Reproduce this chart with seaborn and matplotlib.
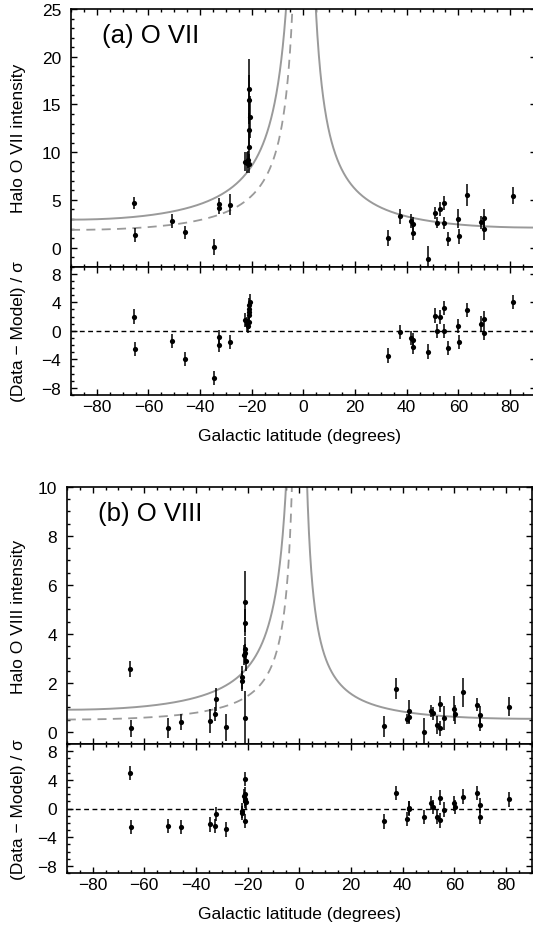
import numpy as np
import pandas as pd
import matplotlib
matplotlib.use("Agg")
import matplotlib.pyplot as plt
from matplotlib.ticker import MultipleLocator
import seaborn as sns

# ---------------- O VII halo intensities ----------------
lat_o7 = [-65.6, -65.1, -50.9, -46.0, -34.8, -32.6, -32.6, -28.6,
          -22.6, -22.0, -21.6, -21.2, -21.1, -20.8, -20.9, -20.9, -21.2,
          32.6, 37.4, 41.7, 42.6, 42.3, 48.1, 51.0, 51.6, 53.0, 54.3, 54.3,
          55.9, 59.8, 60.2, 63.3, 68.7, 70.0, 70.0, 81.0]
o7 = [4.69, 1.33, 2.76, 1.61, 0.07, 4.58, 4.13, 4.51,
      9.0, 8.9, 9.2, 16.6, 15.5, 13.7, 12.3, 10.5, 8.8,
      1.05, 3.29, 2.77, 2.48, 1.51, -1.15, 3.6, 2.59, 4.06, 4.69, 2.56,
      0.91, 3.01, 1.19, 5.52, 2.66, 3.11, 1.96, 5.45]
o7_err = [0.6, 0.77, 0.73, 0.66, 0.84, 0.6, 0.62, 1.08,
          1.0, 1.1, 0.9, 3.2, 2.6, 2.2, 1.8, 1.6, 1.0,
          0.84, 0.79, 0.7, 0.7, 0.75, 1.3, 0.65, 0.58, 0.7, 0.7, 0.65,
          0.7, 1.0, 0.79, 1.14, 0.7, 0.9, 1.2, 0.87]
o7_resid = [2.0, -2.53, -1.45, -3.98, -6.65, -0.89, -1.92, -1.59,
            1.5, 0.9, 0.7, 2.6, 3.0, 4.1, 3.6, 2.2, 1.2,
            -3.46, -0.19, -1.03, -1.26, -2.29, -2.9, 2.15, -0.05, 1.96, 3.18, -0.05,
            -2.43, 0.66, -1.54, 2.95, 1.03, 1.73, -0.33, 4.07]

# ---------------- O VIII halo intensities ----------------
lat_o8 = [-65.5, -65.2, -50.7, -45.8, -34.6, -32.4, -32.5, -28.5,
          -22.3, -22.1, -21.0, -20.9, -21.1, -21.3, -20.8, -21.0, -21.0,
          32.9, 37.6, 41.8, 42.5, 42.3, 48.4, 51.0, 51.9, 53.2, 54.5, 54.6,
          56.1, 60.0, 60.4, 63.5, 68.9, 70.1, 70.1, 81.2]
o8 = [2.56, 0.14, 0.14, 0.41, 0.45, 1.32, 0.72, 0.18,
      2.22, 2.08, 5.31, 4.46, 3.38, 3.13, 2.9, 3.2, 0.55,
      0.22, 1.76, 0.52, 0.83, 0.6, -0.03, 0.85, 0.76, 0.27, 1.13, 0.14,
      0.56, 0.95, 0.71, 1.61, 1.1, 0.69, 0.29, 1.02]
o8_err = [0.33, 0.34, 0.41, 0.32, 0.5, 0.46, 0.3, 0.56,
          0.48, 0.4, 1.25, 0.55, 0.5, 0.4, 0.4, 0.4, 1.1,
          0.43, 0.42, 0.22, 0.46, 0.3, 0.58, 0.24, 0.27, 0.37, 0.34, 0.32,
          0.5, 0.5, 0.4, 0.6, 0.26, 0.37, 0.27, 0.39]
o8_resid = [4.93, -2.55, -2.46, -2.6, -2.23, -0.74, -2.41, -2.93,
            -0.3, -0.65, 4.1, 2.05, 1.35, 1.7, 0.9, 1.1, -1.75,
            -1.81, 2.19, -1.44, 0.1, 0.0, -1.2, 0.75, 0.19, -1.16, 1.53, -1.67,
            -0.14, 0.7, 0.19, 1.67, 2.19, 0.42, -1.12, 1.26]

# Model normalisations, I(b) = norm / |sin b|
o7_norm_south, o7_norm_south_alt, o7_norm_north = 2.93, 1.86, 2.10
o8_norm_south, o8_norm_south_alt, o8_norm_north = 0.90, 0.50, 0.53

sns.set_theme(style="ticks")
plt.rcParams["font.family"] = ["Liberation Sans", "DejaVu Sans"]
plt.rcParams["axes.unicode_minus"] = True

FS = 12.5
GREY = "#9a9a9a"
W, H = 533, 928
fig = plt.figure(figsize=(W / 100, H / 100), dpi=100)


def add_axes_px(left, top, right, bottom):
    return fig.add_axes([left / W, 1 - bottom / H, (right - left) / W, (bottom - top) / H])


def style(ax, ymajor, yminor, labelbottom):
    ax.set_xlim(-90, 90)
    ax.xaxis.set_major_locator(MultipleLocator(20))
    ax.xaxis.set_minor_locator(MultipleLocator(5))
    ax.yaxis.set_major_locator(MultipleLocator(ymajor))
    ax.yaxis.set_minor_locator(MultipleLocator(yminor))
    ax.tick_params(which="both", direction="in", top=True, right=True,
                   color="black", width=1.0, labelsize=FS, labelcolor="black")
    ax.tick_params(which="major", length=4)
    ax.tick_params(which="minor", length=2.2)
    ax.tick_params(axis="x", pad=3, labelbottom=labelbottom)
    ax.tick_params(axis="y", pad=7)
    for s in ax.spines.values():
        s.set_linewidth(1.2)
        s.set_color("black")
    ax.set_facecolor("white")
    ax.grid(False)
    ax.set_xlabel("")
    ax.set_ylabel("")


def model_curves(ax, ns, ns_alt, nn):
    bs = np.linspace(-90, -0.25, 800)
    bn = np.linspace(0.25, 90, 800)
    south = pd.DataFrame({"b": bs, "I": ns / np.sin(np.radians(-bs))})
    south_alt = pd.DataFrame({"b": bs, "I": ns_alt / np.sin(np.radians(-bs))})
    north = pd.DataFrame({"b": bn, "I": nn / np.sin(np.radians(bn))})
    sns.lineplot(data=south, x="b", y="I", ax=ax, color=GREY, lw=1.4, sort=False, estimator=None)
    sns.lineplot(data=north, x="b", y="I", ax=ax, color=GREY, lw=1.4, sort=False, estimator=None)
    sns.lineplot(data=south_alt, x="b", y="I", ax=ax, color=GREY, lw=1.3, sort=False,
                 estimator=None, linestyle=(0, (5, 3.5)))


def data_points(ax, lat, val, err):
    ax.errorbar(lat, val, yerr=err, fmt="none", ecolor="black", elinewidth=1.1, capsize=0)
    sns.scatterplot(x=lat, y=val, ax=ax, color="black", s=14, edgecolor="black", linewidth=0, zorder=5)


def residuals(ax, lat, res):
    ax.axhline(0, color="black", lw=1.0, ls=(0, (3.5, 2.5)), zorder=1)
    ax.errorbar(lat, res, yerr=np.ones(len(res)), fmt="none", ecolor="black", elinewidth=1.1, capsize=0)
    sns.scatterplot(x=lat, y=res, ax=ax, color="black", s=14, edgecolor="black", linewidth=0, zorder=5)


panels = [
    dict(box=(71, 10, 535.8, 267.7, 396), lat=lat_o7, val=o7, err=o7_err, res=o7_resid,
         norms=(o7_norm_south, o7_norm_south_alt, o7_norm_north), ylim=(-2, 25), ymaj=5, ymin=1,
         tag="(a) O VII", ylabel="Halo O VII intensity"),
    dict(box=(66.8, 488, 531.8, 745, 874), lat=lat_o8, val=o8, err=o8_err, res=o8_resid,
         norms=(o8_norm_south, o8_norm_south_alt, o8_norm_north), ylim=(-0.5, 10), ymaj=2, ymin=0.5,
         tag="(b) O VIII", ylabel="Halo O VIII intensity"),
]

for p in panels:
    left, top, right, mid, bottom = p["box"]
    ax = add_axes_px(left, top, right, mid)
    axr = add_axes_px(left, mid, right, bottom)

    model_curves(ax, *p["norms"])
    data_points(ax, p["lat"], p["val"], p["err"])
    ax.set_ylim(*p["ylim"])
    style(ax, p["ymaj"], p["ymin"], labelbottom=False)
    ax.text(0.067, 0.872, p["tag"], transform=ax.transAxes, fontsize=18.5,
            ha="left", va="baseline", color="black")

    residuals(axr, p["lat"], p["res"])
    axr.set_ylim(-9, 9)
    style(axr, 4, 1, labelbottom=True)
    axr.set_yticks([-8, -4, 0, 4, 8])

    # axis titles
    fig.text(19 / W, 1 - (top + mid) / 2 / H, p["ylabel"], rotation=90,
             ha="center", va="center", fontsize=FS, color="black")
    fig.text(19 / W, 1 - (mid + bottom) / 2 / H, "(Data \u2212 Model) / \u03c3", rotation=90,
             ha="center", va="center", fontsize=FS, color="black")
    fig.text(299.7 / W, 1 - (bottom + 33.5) / H, "Galactic latitude (degrees)",
             ha="center", va="top", fontsize=FS, color="black")

fig.savefig("out.png", dpi=100, facecolor="white")
